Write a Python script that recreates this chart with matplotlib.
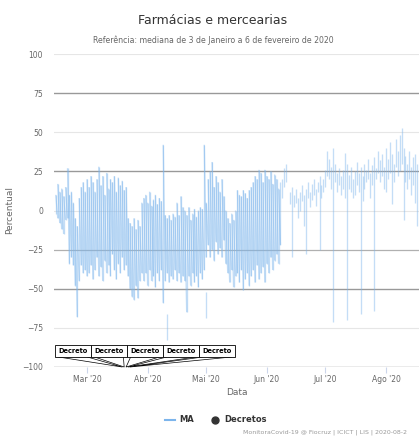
import numpy as np
import pandas as pd
import matplotlib
matplotlib.use("Agg")
import matplotlib.pyplot as plt
import matplotlib.dates as mdates
from matplotlib.lines import Line2D
from matplotlib.collections import LineCollection

# daily top / bottom of the MA strokes, from 2020-02-14
start_date = "2020-02-14"
ma_high = [10, 17, 12, 14, 9, 15,
           27, 10, 12, 5, -5, -10, 8, 15, 18, 12, 20,
           15, 22, 18, 12, 20, 28, 16, 22, 10, 24, 14, 20, 18, 22, 12, 21, 16, 19, 13,
           15, -5, -8, -10, -5, -12, -6, -10, 5,
           8, 10, 5, 12, 3, 7, 10, 4, 8, 6, 42,
           -3, -5, -3, -6, -2, -4, 5, -3, 9, 2,
           0, -3, 2, -6, -2, 1, -4, 0, 2, 1, 42,
           5, 20, 25, 31, 15, 22, 18, 12, 20, 9,
           0, -5, -8, -2, -6, 0, 13, 10, 9, 13, 11, 8, 13,
           15, 18, 22, 20, 26, 24, 18, 26, 22, 20, 25, 17, 23, 20, 14, 18,
           # sparse part from 2020-06-09
           20, 27, 30, np.nan, 12, 15, 10, 14, 8, 12,
           16, 10, 14, 18, 12, 17, 20, 14, 18, 22,
           16, 20, 26, 38, 33, 28, 40, 30, 24, 27,
           22, 26, 37, 30, 23, 28, 20, 25, 31, 24,
           28, 22, 30, 26, 33, 24, 29, 34, 27, 38,
           32, 36, 28, 40, 33, 44, 36, 30, 46, 38,
           48, 53, 40, 35, 30, 38, 28, 34, 36, 30]
ma_low = [-2, -5, -8, -12, -15, -6,
          -5, -34, -30, -35, -48, -68, -45, -35, -40, -38, -42,
          -40, -35, -44, -38, -30, -42, -36, -45, -32, -40, -35, -42, -28, -38, -44, -34, -40, -30, -38,
          -35, -42, -50, -55, -57, -48, -56, -45, -40,
          -45, -40, -48, -38, -45, -42, -49, -40, -45, -38, -59,
          -45, -40, -46, -42, -44, -38, -45, -40, -46, -42,
          -45, -65, -42, -48, -40, -46, -42, -49, -40, -44, -38,
          -30, -22, -30, -25, -32, -20, -28, -24, -30, -19,
          -34, -40, -46, -38, -49, -42, -40, -46, -38, -51, -44, -40, -48,
          -42, -38, -46, -35, -44, -40, -36, -46, -34, -40, -30, -38, -32, -28, -34, -22,
          8, 15, 18, np.nan, 4, -30, 2, 5, -5, 0,
          6, -10, -28, 8, 2, 7, 10, 3, 12, -25,
          8, 12, 15, 22, 20, 14, -71, 18, 12, 16,
          10, 14, 8, -70, 14, 12, 8, 10, 16, 12,
          -66, 6, 14, 18, 20, 8, 16, -64, 20, 24,
          18, 22, 14, 12, 20, 24, 4, 18, 28, 22,
          25, 30, -6, 18, 14, 20, 10, 16, 5, -10]
dense_days = 116

# loose strokes not joined to the line
extra_dates = ["2020-04-11", "2020-05-01"]
extra_low = [-83, -69]
extra_high = [-66, -52]

decreto_dates = ["2020-03-19", "2020-03-20", "2020-03-21", "2020-03-22", "2020-03-23"]
decreto_labels = ["Decreto"] * 5

month_ticks = ["2020-03-01", "2020-04-01", "2020-05-01", "2020-06-01", "2020-07-01", "2020-08-01"]
month_labels = ["Mar '20", "Abr '20", "Mai '20", "Jun '20", "Jul '20", "Ago '20"]

blue = "#7cb5ec"

dates = pd.date_range(start_date, periods=len(ma_high))
xd = mdates.date2num(dates)

fig = plt.figure(figsize=(4.19, 4.37), dpi=100)
ax = fig.add_axes([54 / 419, 1 - 367 / 437, 365 / 419, 313 / 437])

# grid lines
for v in [100, 50, 0, -75]:
    ax.axhline(v, color="#e6e6e6", lw=0.8, zorder=0)
for v in [75, 25, -50, -100]:
    ax.axhline(v, color="#999999", lw=1.0, zorder=0)
ax.axhline(-25, color="#b0b0b0", lw=0.9, zorder=0)

# dense part: zigzag low -> high -> next low ..., each piece drawn on its own
pts = []
for i in range(dense_days):
    pts.append((xd[i], ma_low[i]))
    pts.append((xd[i], ma_high[i]))
segs = [[pts[k], pts[k + 1]] for k in range(len(pts) - 1)]

# sparse part: separate strokes
for i in range(dense_days, len(ma_high)):
    if not np.isnan(ma_high[i]):
        segs.append([(xd[i], ma_low[i]), (xd[i], ma_high[i])])

for d, lo, hi in zip(extra_dates, extra_low, extra_high):
    x = mdates.date2num(pd.Timestamp(d))
    segs.append([(x, lo), (x, hi)])

ax.add_collection(LineCollection(segs, colors=blue, linewidths=0.95, alpha=0.45, zorder=2))

ax.set_xlim(mdates.date2num(pd.Timestamp("2020-02-13 02:00")),
            mdates.date2num(pd.Timestamp("2020-08-17 22:00")))
ax.set_ylim(-100, 100)

ax.set_yticks(range(-100, 101, 25))
ax.set_xticks(mdates.date2num(pd.to_datetime(month_ticks)))
ax.set_xticklabels(month_labels)
ax.tick_params(axis="y", length=0, pad=8, labelsize=5.5, labelcolor="#666666")
ax.tick_params(axis="x", length=4, width=0.8, color="#ccd6eb", pad=1.5,
               labelsize=5.5, labelcolor="#666666")
for s in ax.spines.values():
    s.set_visible(False)

ax.set_xlabel("Data", fontsize=6.5, color="#666666", labelpad=3)
ax.set_ylabel("Percentual", fontsize=6.5, color="#666666", labelpad=6)

# decreto flags
box_w = 36 / 365
box_h = 12 / 313
box_y = 10 / 313
for k, (d, lab) in enumerate(zip(decreto_dates, decreto_labels)):
    x0 = 1 / 365 + k * box_w
    ax.add_patch(plt.Rectangle((x0, box_y), box_w, box_h, transform=ax.transAxes,
                               facecolor="white", edgecolor="black", lw=0.6,
                               zorder=5, clip_on=False))
    ax.text(x0 + box_w / 2, box_y + box_h / 2, lab, transform=ax.transAxes,
            ha="center", va="center", fontsize=4.8, fontweight="bold",
            color="black", zorder=6)
    ax_x = ax.transAxes.inverted().transform(
        ax.transData.transform((mdates.date2num(pd.Timestamp(d)), -100)))[0]
    ax.plot([x0 + 0.1 * box_w, ax_x, x0 + 0.9 * box_w], [box_y, 0, box_y],
            transform=ax.transAxes, color="black", lw=0.5, zorder=4, clip_on=False)

fig.text(0.508, 1 - 20 / 437, "Farmácias e mercearias", ha="center", va="center",
         fontsize=9, color="#333333")
fig.text(0.508, 1 - 40 / 437, "Referência: mediana de 3 de Janeiro a 6 de fevereiro de 2020",
         ha="center", va="center", fontsize=5.6, color="#666666")

handles = [Line2D([], [], color=blue, lw=1.5),
           Line2D([], [], color="#333333", marker="o", ls="none", markersize=5)]
fig.legend(handles, ["MA", "Decretos"], loc="center", bbox_to_anchor=(0.515, 1 - 420 / 437),
           ncol=2, frameon=False, prop={"size": 6, "weight": "bold"},
           handlelength=1.2, columnspacing=2.0, handletextpad=0.5, labelcolor="#333333")

fig.text(243 / 419, 1 - 432 / 437, "MonitoraCovid-19 @ Fiocruz | ICICT | LIS | 2020-08-2",
         ha="left", va="center", fontsize=4.5, color="#999999")

fig.savefig("out.png", dpi=100)
